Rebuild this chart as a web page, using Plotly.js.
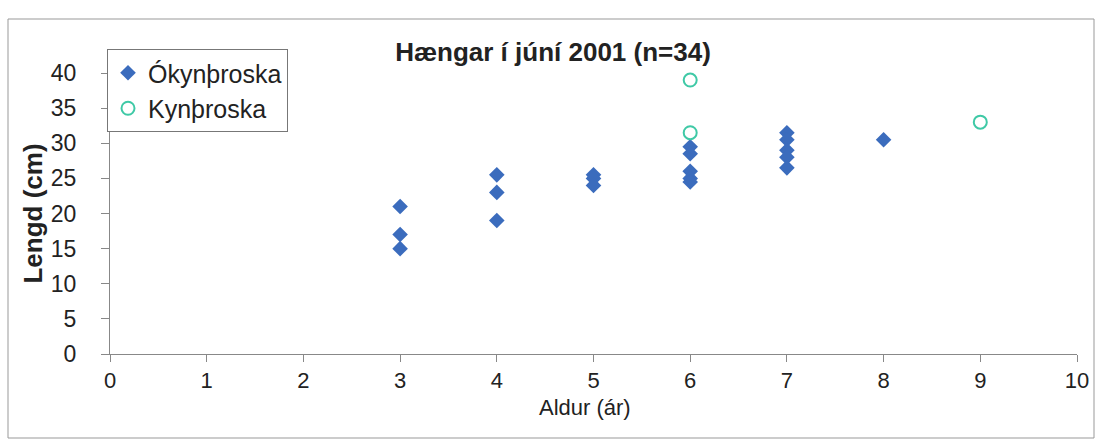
<!DOCTYPE html>
<html>
<head>
<meta charset="utf-8">
<script src="https://cdn.plot.ly/plotly-3.0.1.min.js"></script>
<style>
html,body{margin:0;padding:0;background:#fff;}
#chart{width:1098px;height:441px;}
</style>
</head>
<body>
<div id="chart"></div>
<script>
// Ókynþroska (immature) – age (years) and length (cm)
const immatureAge    = [3, 3, 3, 4, 4, 4, 5, 5, 5, 6, 6, 6, 6, 6, 7, 7, 7, 7, 7, 8];
const immatureLength = [21, 17, 15, 25.5, 23, 19, 25.5, 25, 24, 29.5, 28.5, 26, 25, 24.5, 31.5, 30.5, 29, 28, 26.5, 30.5];
// Kynþroska (mature)
const matureAge    = [6, 6, 9];
const matureLength = [39, 31.5, 33];

const xTicks = [0, 1, 2, 3, 4, 5, 6, 7, 8, 9, 10];
const yTicks = [0, 5, 10, 15, 20, 25, 30, 35, 40];

const font = "Liberation Sans, Arial, sans-serif";

const traces = [
  {
    x: immatureAge, y: immatureLength, type: "scatter", mode: "markers",
    name: "Ókynþroska",
    marker: {symbol: "diamond", size: 12, color: "#3b6cbd", line: {width: 0}},
    cliponaxis: false
  },
  {
    x: matureAge, y: matureLength, type: "scatter", mode: "markers",
    name: "Kynþroska",
    marker: {symbol: "circle-open", size: 13, color: "#3fc9a6", line: {width: 2, color: "#3fc9a6"}},
    cliponaxis: false
  }
];

// pixel helpers for positions in paper coords
const L = 110, R = 21, T = 73, B = 87, W = 1098, H = 441;
const pw = W - L - R, ph = H - T - B;
const px = v => (v - L) / pw;
const py = v => (H - B - v) / ph;

const layout = {
  width: W, height: H,
  margin: {l: L, r: R, t: T, b: B, pad: 0},
  paper_bgcolor: "#ffffff",
  plot_bgcolor: "#ffffff",
  font: {family: font, color: "#222"},
  showlegend: true,
  title: {
    text: "<b>Hængar í júní 2001 (n=34)</b>",
    font: {family: font, size: 26, color: "#222"},
    x: 553 / W, xanchor: "center",
    y: 1 - 52 / H, yanchor: "middle"
  },
  xaxis: {
    range: [0, 10],
    tickvals: xTicks,
    ticktext: xTicks.map(String),
    showgrid: false, zeroline: false,
    showline: true, linecolor: "#888", linewidth: 1,
    ticks: "outside", ticklen: 7, tickcolor: "#888",
    ticklabelstandoff: 0,
    tickfont: {family: font, size: 22, color: "#222"},
    title: {text: ""},
    fixedrange: true
  },
  yaxis: {
    range: [0, 40],
    tickvals: yTicks,
    ticktext: yTicks.map(String),
    showgrid: false, zeroline: false,
    showline: true, linecolor: "#888", linewidth: 1,
    ticks: "outside", ticklen: 8, tickcolor: "#888",
    ticklabelstandoff: 20,
    tickfont: {family: font, size: 23, color: "#222"},
    title: {text: "<b>Lengd (cm)</b>", font: {family: font, size: 26, color: "#222"}, standoff: 0},
    fixedrange: true
  },
  legend: {
    x: px(107), xanchor: "left",
    y: py(49), yanchor: "top",
    bgcolor: "#ffffff",
    bordercolor: "#777", borderwidth: 1,
    font: {family: font, size: 25, color: "#222"},
    itemwidth: 30,
    tracegroupgap: 0
  },
  annotations: [
    {text: "Aldur (ár)", xref: "paper", yref: "paper",
     x: px(585), y: py(407), xanchor: "center", yanchor: "middle",
     showarrow: false, font: {family: font, size: 22, color: "#222"}}
  ],
  shapes: [
    {type: "rect", xref: "paper", yref: "paper",
     x0: px(8), x1: px(1094), y0: py(438), y1: py(19),
     line: {color: "#999", width: 1}, fillcolor: "rgba(0,0,0,0)", layer: "below"}
  ]
};

Plotly.newPlot("chart", traces, layout, {displayModeBar: false, staticPlot: true});
</script>
</body>
</html>
